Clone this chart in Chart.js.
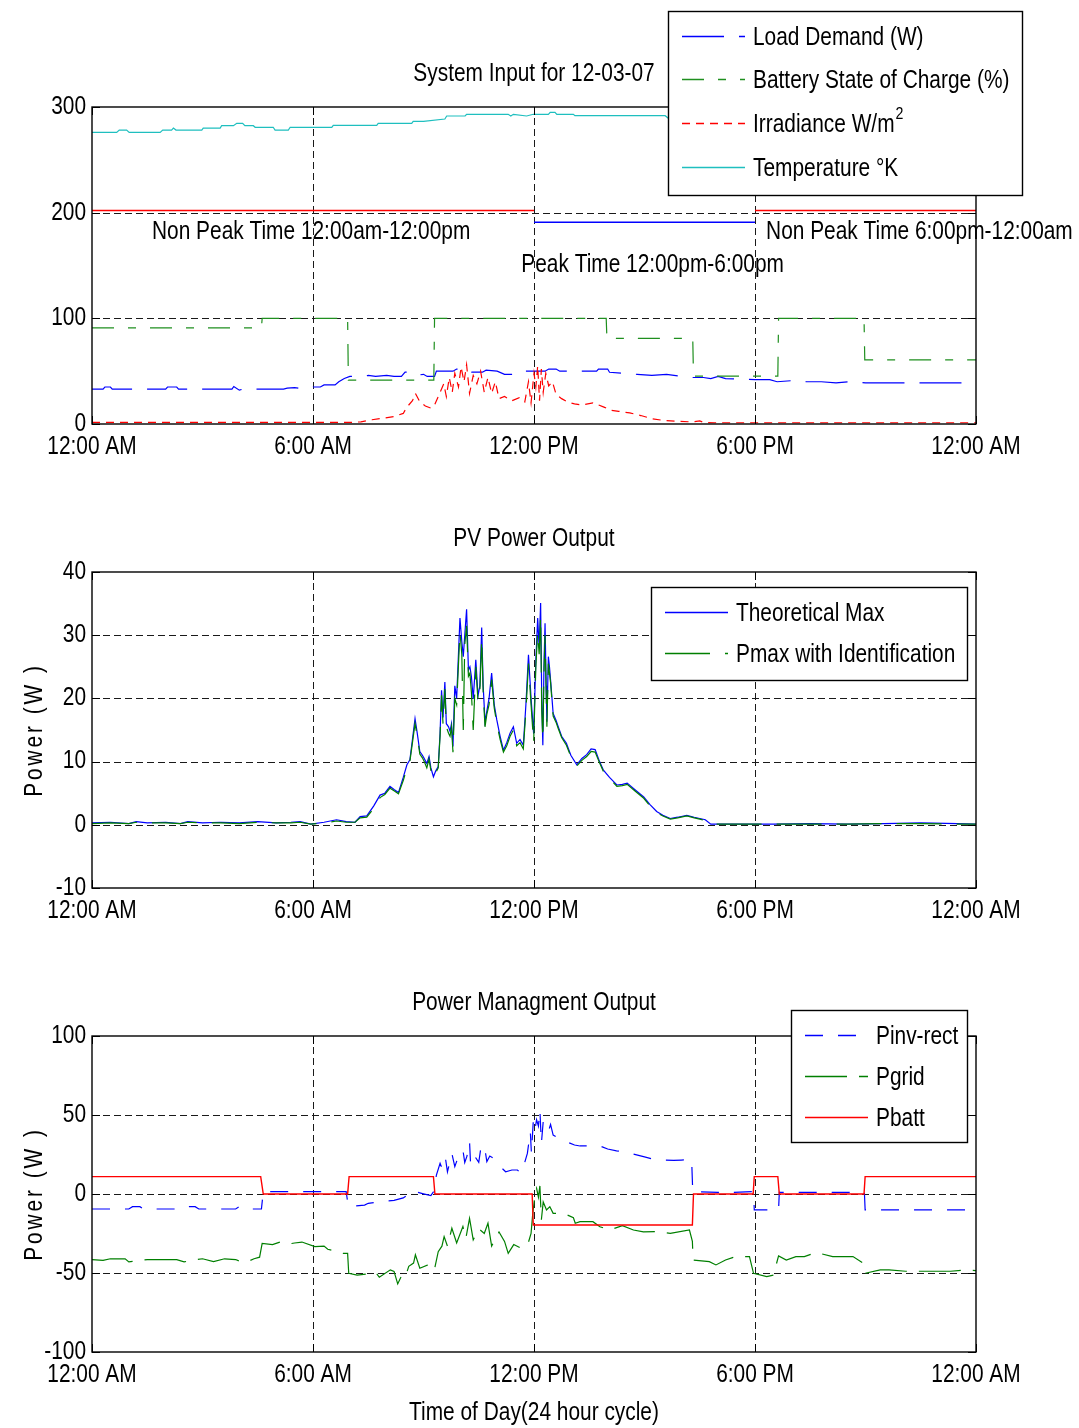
<!DOCTYPE html>
<html>
<head>
<meta charset="utf-8">
<title>System Input / PV Power / Power Management</title>
<script src="https://cdn.jsdelivr.net/npm/chart.js@4.4.1/dist/chart.umd.min.js"></script>
<style>
  html, body { margin: 0; padding: 0; background: #fff; }
  #wrap { position: relative; width: 1079px; height: 1428px; }
  #wrap canvas { position: absolute; left: 0; top: 0; }
</style>
</head>
<body>
<div id="wrap">
  <canvas id="chart-input" width="1079" height="1428"></canvas>
  <canvas id="chart-pv" width="1079" height="1428"></canvas>
  <canvas id="chart-mgmt" width="1079" height="1428"></canvas>
</div>
<script>
// ---- shared axis data ----
const tickHours = [0, 6, 12, 18, 24];
const tickLabels = ['12:00 AM', '6:00 AM', '12:00 PM', '6:00 PM', '12:00 AM'];

// ---- chart 1: system input ----
const inputTicks = [0, 100, 200, 300];

const loadHours = [0, 0.3, 0.35, 0.5, 0.55, 2.0, 2.05, 2.3, 2.35, 3.8,
  3.85, 4.0, 4.1, 5.2, 5.3, 5.5, 5.8, 6.0, 6.2, 6.3,
  6.6, 6.7, 6.85, 7.0, 7.4, 7.5, 7.7, 8.0, 8.2, 8.4,
  8.5, 8.7, 8.8, 9.0, 9.1, 9.3, 9.35, 9.8, 9.9, 10.2,
  10.3, 10.6, 10.7, 11.0, 11.2, 11.6, 11.7, 12.0, 12.3, 12.4,
  12.6, 12.7, 13.7, 13.75, 14.0, 14.05, 14.8, 15.2, 15.6, 16.0,
  16.3, 16.6, 16.8, 17.0, 17.2, 18.0, 18.4, 18.6, 19.0, 19.4,
  19.8, 20.2, 20.6, 21.0, 22.0, 24.0];
const loadWatts = [33, 33, 35, 35, 33, 33, 35, 35, 33, 33,
  35.5, 32, 33, 33, 34, 34.5, 33, 35, 35, 37,
  37, 40, 43, 45, 45, 46, 45, 46, 45, 45,
  49, 49, 46, 47, 45, 45, 50, 50, 52, 52,
  49, 49, 51, 50, 47, 47, 50, 50, 50, 52,
  52, 50, 50, 52, 52, 49, 47, 46, 47, 45,
  44, 44, 43, 45, 43, 42, 42, 40, 41, 40,
  40, 39, 40, 39, 39, 39];

const socHours = [0, 4.6, 4.62, 6.94, 6.96, 9.28, 9.3, 13.96, 13.98, 16.31, 16.33, 18.62, 18.64, 20.96, 20.98, 24];
const socPercent = [91, 91, 100, 100, 41.6, 41.6, 100, 100, 81, 81, 45.4, 45.4, 100, 100, 60.6, 60.6];

const irrHours = [0, 7.0, 7.3, 7.6, 7.9, 8.2, 8.45, 8.55, 8.7, 8.78,
  8.9, 9.05, 9.2, 9.3, 9.45, 9.55, 9.62, 9.7, 9.78, 9.85,
  9.95, 10.02, 10.1, 10.17, 10.25, 10.35, 10.45, 10.55, 10.65, 10.75,
  10.85, 10.95, 11.05, 11.2, 11.4, 11.6, 11.75, 11.85, 11.92, 12.0,
  12.05, 12.1, 12.15, 12.2, 12.25, 12.32, 12.4, 12.5, 12.6, 12.75,
  12.9, 13.1, 13.3, 13.6, 13.9, 14.1, 14.3, 14.6, 14.9, 15.2,
  15.5, 15.9, 16.3, 16.5, 16.6, 16.9, 24];
const irrValues = [1.5, 1.5, 2, 4, 5.5, 7, 10, 16, 22, 29,
  21, 17, 15, 18, 30, 38, 26, 44, 30, 48,
  35, 54, 40, 56, 29, 46, 38, 50, 30, 44,
  29, 40, 24, 26, 22, 25, 21, 40, 20, 48,
  35, 55, 22, 52, 30, 48, 36, 40, 28, 24,
  21, 19, 18, 20, 16, 13, 12, 10.5, 8, 5,
  3.5, 2.5, 2, 3, 1.5, 1.2, 1.2];

const tempHours = [0, 0.67, 0.74, 0.94, 1.01, 1.85, 1.92, 2.16, 2.21, 2.28,
  2.98, 3.02, 3.48, 3.52, 3.84, 3.93, 4.09, 4.15, 4.38, 4.43,
  4.92, 4.97, 5.33, 5.38, 6.51, 6.55, 7.73, 7.77, 8.68, 8.72,
  9.0, 9.58, 9.63, 10.13, 10.17, 11.30, 11.37, 11.44, 11.80, 11.98,
  12.39, 12.44, 12.57, 12.62, 13.07, 13.11, 15.56, 15.65, 17, 19,
  21, 24];
const tempKelvin = [276, 276, 278.2, 278.2, 276, 276, 278.2, 278.2, 280.1, 278.2,
  278.2, 280.1, 280.1, 282.3, 282.3, 284.5, 284.5, 282.3, 282.3, 280.8,
  280.8, 278.2, 278.2, 280.8, 280.8, 282.7, 282.7, 284.5, 284.5, 286.4,
  286.4, 288.6, 291.5, 291.5, 293.1, 293.1, 291.5, 293.1, 291.5, 293.1,
  293.1, 295, 295, 293.1, 293.1, 291.8, 291.8, 289.3, 288, 286,
  284, 282];

// tariff period markers (non peak / peak / non peak)
const tariffStart = [0, 12, 18];
const tariffEnd = [12, 18, 24];
const tariffLevel = [202, 191, 202];
const tariffColors = ['#ff0000', '#0000ff', '#ff0000'];

const noteText = ['Non Peak Time 12:00am-12:00pm', 'Peak Time 12:00pm-6:00pm', 'Non Peak Time 6:00pm-12:00am'];
const noteHour = [5.95, 15.22, 18.3];
const noteLevel = [182, 150, 182];

// ---- chart 2: PV power ----
const pvTicks = [-10, 0, 10, 20, 30, 40];
const pvHours = [0, 0.5, 1.0, 1.2, 1.5, 2.0, 2.4, 2.6, 3.0, 3.5,
  4.0, 4.5, 5.0, 5.4, 5.65, 5.94, 6.3, 6.64, 6.9, 7.14,
  7.28, 7.46, 7.65, 7.82, 7.95, 8.09, 8.2, 8.32, 8.45, 8.55,
  8.63, 8.7, 8.77, 8.83, 8.9, 8.97, 9.02, 9.09, 9.15, 9.2,
  9.27, 9.33, 9.4, 9.45, 9.49, 9.53, 9.58, 9.62, 9.68, 9.72,
  9.76, 9.8, 9.85, 9.9, 9.95, 9.99, 10.04, 10.08, 10.12, 10.17,
  10.22, 10.26, 10.3, 10.35, 10.42, 10.48, 10.53, 10.58, 10.62, 10.67,
  10.72, 10.78, 10.85, 10.92, 10.99, 11.08, 11.17, 11.26, 11.35, 11.44,
  11.53, 11.62, 11.71, 11.78, 11.85, 11.92, 11.99, 12.05, 12.1, 12.14,
  12.18, 12.21, 12.24, 12.27, 12.3, 12.33, 12.35, 12.39, 12.42, 12.45,
  12.52, 12.6, 12.66, 12.75, 12.88, 13.0, 13.16, 13.3, 13.43, 13.55,
  13.66, 13.78, 13.88, 14.05, 14.25, 14.4, 14.53, 14.75, 14.98, 15.15,
  15.33, 15.5, 15.7, 15.9, 16.15, 16.35, 16.5, 16.65, 16.8, 17.5,
  18.5, 19.5, 20.5, 21.5, 22.5, 23.5, 24];
const pvTheoretical = [0.3, 0.4, 0.2, 0.5, 0.3, 0.4, 0.2, 0.5, 0.3, 0.4,
  0.3, 0.5, 0.3, 0.4, 0.5, 0.1, 0.4, 0.8, 0.5, 0.4,
  1.3, 1.4, 3.0, 4.7, 5.0, 6.1, 5.6, 5.1, 7.5, 9.5,
  10.3, 13.5, 16.8, 14.5, 11.6, 11.0, 10.5, 9.7, 10.8, 9.0,
  7.6, 8.5, 9.2, 14.5, 21.3, 17.0, 22.6, 16.0, 15.5, 14.8,
  16.0, 12.4, 22.0, 20.0, 27.1, 32.7, 29.0, 26.6, 30.0, 34.1,
  24.5, 25.0, 23.5, 19.9, 26.1, 20.4, 22.0, 31.2, 22.0, 16.3,
  18.0, 20.0, 24.0, 19.0, 16.6, 14.0, 11.8, 13.0, 14.5, 15.5,
  12.9, 13.5, 12.6, 19.0, 26.9, 20.0, 14.4, 26.0, 32.7, 28.0,
  35.1, 20.0, 12.6, 25.0, 31.9, 22.0, 16.3, 26.6, 25.0, 22.9,
  17.6, 16.5, 15.5, 14.0, 12.9, 11.0, 9.5, 10.5, 11.1, 12.0,
  11.9, 10.0, 8.7, 7.5, 6.3, 6.4, 6.6, 5.5, 4.4, 3.2,
  2.1, 1.5, 1.0, 1.2, 1.5, 1.2, 1.0, 0.8, 0.1, 0.1,
  0.1, 0.2, 0.1, 0.2, 0.3, 0.2, 0.1];
const pvIdentified = [0.2, 0.3, 0.2, 0.4, 0.3, 0.3, 0.2, 0.4, 0.3, 0.3,
  0.2, 0.4, 0.3, 0.3, 0.4, 0.1, 0.3, 0.6, 0.4, 0.4,
  1.1, 1.2, 2.6, 4.3, 4.8, 5.8, 5.4, 4.9, 7.0, 9.0,
  10.0, 13.0, 16.0, 14.0, 11.2, 10.6, 10.0, 9.0, 10.4, 8.6,
  7.4, 8.2, 9.0, 14.0, 20.5, 16.0, 21.5, 15.5, 14.5, 14.0,
  15.5, 11.5, 20.0, 19.0, 25.5, 30.5, 27.0, 15.0, 28.5, 31.5,
  23.5, 24.0, 21.0, 15.0, 25.0, 19.5, 21.0, 29.5, 21.0, 15.5,
  17.5, 19.0, 23.0, 18.5, 16.0, 13.5, 11.5, 12.5, 14.0, 15.0,
  12.5, 13.0, 12.0, 18.0, 25.5, 19.0, 13.0, 25.0, 30.5, 27.0,
  33.0, 18.0, 13.5, 24.0, 30.0, 21.0, 15.5, 25.5, 24.0, 22.5,
  17.2, 16.2, 15.2, 13.8, 12.6, 10.8, 9.3, 10.2, 10.8, 11.6,
  11.5, 9.8, 8.5, 7.3, 6.1, 6.2, 6.4, 5.3, 4.2, 3.0,
  1.9, 1.4, 0.9, 1.1, 1.4, 1.1, 0.9, 0.7, 0.1, 0.1,
  0.1, 0.1, 0.1, 0.2, 0.2, 0.1, 0.1];

// ---- chart 3: power management ----
const mgmtTicks = [-100, -50, 0, 50, 100];

const invHours = [0, 1.0, 1.1, 1.3, 1.4, 2.5, 2.6, 2.8, 2.9, 3.9,
  4.0, 4.2, 4.3, 4.6, 4.65, 6.9, 6.96, 7.4, 7.5, 7.9,
  8.2, 8.45, 8.6, 8.73, 8.85, 9.0, 9.2, 9.29, 9.35, 9.45,
  9.52, 9.6, 9.65, 9.77, 9.85, 9.95, 10.07, 10.12, 10.18, 10.25,
  10.28, 10.4, 10.5, 10.55, 10.65, 10.72, 10.8, 10.95, 11.1, 11.23,
  11.4, 11.55, 11.64, 11.71, 11.82, 11.9, 11.93, 11.98, 12.02, 12.07,
  12.12, 12.16, 12.2, 12.25, 12.3, 12.39, 12.45, 12.52, 12.7, 12.88,
  13.1, 13.25, 13.79, 14.0, 14.24, 14.5, 14.7, 15.0, 15.24, 15.5,
  15.79, 16.0, 16.28, 16.31, 17.0, 17.2, 17.4, 17.96, 17.98, 18.64,
  18.66, 20.97, 20.99, 24];
const invWatts = [-9.5, -9.5, -8, -8, -9.5, -9.5, -8, -8, -9.5, -9.5,
  -8, -8, -9.5, -9.5, 1.5, 1.5, -8, -7, -5.9, -4.6,
  -4, -2.5, 0, 2.5, 1, 0.1, -1, 2, 12, 19.4,
  15.2, 22, 14, 25.7, 17.3, 24, 27.8, 20, 24, 33.1,
  18, 23.6, 20, 28, 31, 20.5, 24, 22, 17, 14.1,
  15.2, 15.2, 13.1, 17, 25.7, 39.5, 25.7, 45.8, 40, 47,
  43, 53.2, 32, 45.8, 42, 39.5, 44, 37.3, 35, 33.1,
  31, 30.4, 30.4, 28.5, 27.3, 26.5, 25.3, 23.5, 22, 21.5,
  21.3, 21.5, 21.7, 1.5, 1, 1.8, 1, 1.5, -10, -10,
  1, 1, -10, -10];

const gridHours = [0, 0.3, 0.5, 0.9, 1.0, 1.3, 1.5, 2.3, 2.5, 2.7,
  3.0, 3.3, 3.6, 3.9, 4.0, 4.2, 4.4, 4.55, 4.62, 4.9,
  5.1, 5.3, 5.5, 5.7, 6.05, 6.3, 6.4, 6.6, 6.82, 6.94,
  6.97, 7.2, 7.5, 7.7, 7.8, 8.1, 8.2, 8.3, 8.4, 8.5,
  8.6, 8.73, 8.78, 8.9, 9.1, 9.29, 9.4, 9.5, 9.56, 9.65,
  9.77, 9.9, 10.07, 10.15, 10.25, 10.35, 10.5, 10.65, 10.75, 10.85,
  11.05, 11.2, 11.3, 11.45, 11.66, 11.84, 11.92, 11.96, 12.03, 12.07,
  12.12, 12.16, 12.2, 12.25, 12.34, 12.43, 12.52, 12.8, 13.07, 13.12,
  13.25, 13.6, 13.79, 14.06, 14.4, 14.7, 14.97, 15.33, 15.7, 16.22,
  16.3, 16.32, 16.76, 16.94, 17.2, 17.48, 17.85, 17.96, 18.32, 18.5,
  18.64, 18.85, 19.11, 19.34, 19.66, 20.11, 20.66, 20.95, 20.99, 21.4,
  21.64, 22.09, 23.31, 23.72, 24];
const gridWatts = [-41.5, -42, -41, -41, -43, -42, -41.5, -41.5, -43, -42,
  -41, -42.8, -41, -41.5, -42.5, -43, -41, -40, -31.2, -32,
  -30.5, -31.8, -31, -30.4, -33.3, -33, -35, -36, -37.6, -37.6,
  -50.2, -51.3, -50.5, -49.6, -52.7, -48, -49, -56.9, -52, -53,
  -45.8, -43.7, -38.5, -47, -45, -48.5, -36.5, -33, -27, -33,
  -21.7, -31, -20.6, -28, -15.4, -29, -22, -25, -18.5, -33,
  -24, -30, -37.6, -32, -34.4, -31.2, -25, -14, 0.4, 3.6,
  -2, 5.1, -16.3, -5, -10.1, -8, -12.2, -12.2, -15, -18.5,
  -17.5, -17.5, -20.7, -22.8, -20, -22.8, -24, -23.8, -24.9, -22.8,
  -30, -41.8, -42.8, -44.9, -41.8, -39.6, -39.6, -50.2, -52.3, -51.3,
  -39.2, -41.8, -39.6, -39.6, -37, -39.6, -39.6, -43.9, -50.2, -48,
  -48, -48.9, -48.9, -48, -48.5];

const battHours = [0, 4.58, 4.65, 6.94, 6.98, 9.27, 9.31, 11.95, 11.98, 16.3, 16.33, 17.95, 17.98, 18.62, 18.66, 20.96, 20.99, 24];
const battWatts = [11, 11, 0, 0, 11, 11, 0, 0, -19.6, -19.6, 0, 0, 11, 11, 0, 0, 11, 11];

// ---- layout / style ----
const PAGE_W = 1079, PAGE_H = 1428;
const PLOT_LEFT = 92, PLOT_RIGHT = 976;
const X_AXIS_H = 40;
const FONT_FAMILY = '"Liberation Sans", Arial, sans-serif';
const FONT_SIZE = 25;
const FONT = `${FONT_SIZE}px ${FONT_FAMILY}`;
const SX = 0.835; // horizontal squeeze, the original uses a narrow face

function pts(xs, ys) {
  if (xs.length !== ys.length) console.warn('length mismatch', xs.length, ys.length);
  return xs.map((x, i) => ({ x, y: ys[i] }));
}

function line(label, xs, ys, color, dash, extra) {
  return Object.assign({
    label, data: pts(xs, ys), borderColor: color, backgroundColor: color,
    borderWidth: 1.2, borderDash: dash || [], pointRadius: 0, fill: false, tension: 0
  }, extra || {});
}

// MATLAB draws later lines on top; Chart.js draws lower `order` on top
function stackOrder(datasets) {
  datasets.forEach((d, i) => { d.order = datasets.length - i; });
  return datasets;
}

// narrow text: normal face squeezed horizontally around its anchor
function drawText(ctx, text, x, y, align, font) {
  ctx.save();
  ctx.font = font || FONT;
  ctx.fillStyle = '#000';
  ctx.textAlign = align;
  ctx.textBaseline = 'middle';
  ctx.translate(x, y);
  ctx.scale(SX, 1);
  ctx.fillText(text, 0, 0);
  ctx.restore();
}

function drawLegend(ctx, chart, L) {
  ctx.save();
  ctx.fillStyle = '#fff';
  ctx.fillRect(L.left, L.top, L.width, L.height);
  ctx.strokeStyle = '#000';
  ctx.lineWidth = 1.4;
  ctx.setLineDash([]);
  ctx.strokeRect(L.left + 0.5, L.top + 0.5, L.width, L.height);
  chart.data.datasets.filter(d => d.label).forEach((d, i) => {
    const yy = Math.round(L.top + L.firstRow + i * L.rowGap) + 0.5;
    ctx.strokeStyle = d.borderColor;
    ctx.lineWidth = 1.3;
    ctx.setLineDash(d.borderDash || []);
    ctx.beginPath();
    ctx.moveTo(L.left + 14, yy);
    ctx.lineTo(L.left + 77, yy);
    ctx.stroke();
    ctx.setLineDash([]);
    drawText(ctx, d.label, L.left + 85, yy + 2, 'left');
    if (d.labelSup) {
      ctx.font = FONT;
      const w = ctx.measureText(d.label).width * SX;
      drawText(ctx, d.labelSup, L.left + 86 + w, yy - 9, 'left', `17px ${FONT_FAMILY}`);
    }
  });
  ctx.restore();
}

const matlabPlugin = {
  id: 'matlab',
  beforeDatasetsDraw(chart) {
    const { ctx, chartArea: a, scales: { x, y } } = chart;
    ctx.save();
    ctx.strokeStyle = '#1a1a1a';
    ctx.lineWidth = 1;
    ctx.setLineDash([7, 4]);
    ctx.beginPath();
    x.ticks.forEach(t => {
      if (t.value <= x.min || t.value >= x.max) return;
      const px = Math.round(x.getPixelForValue(t.value)) + 0.5;
      ctx.moveTo(px, a.top); ctx.lineTo(px, a.bottom);
    });
    y.ticks.forEach(t => {
      if (t.value <= y.min || t.value >= y.max) return;
      const py = Math.round(y.getPixelForValue(t.value)) + 0.5;
      ctx.moveTo(a.left, py); ctx.lineTo(a.right, py);
    });
    ctx.stroke();
    ctx.restore();
  },
  afterDraw(chart, args, opts) {
    const { ctx, chartArea: a, scales: { x, y } } = chart;
    ctx.save();
    // axes box and inward tick marks
    ctx.strokeStyle = '#000';
    ctx.setLineDash([]);
    ctx.lineWidth = 1.4;
    ctx.strokeRect(a.left, a.top, a.right - a.left, a.bottom - a.top);
    ctx.lineWidth = 1;
    ctx.beginPath();
    x.ticks.forEach(t => {
      const px = Math.round(x.getPixelForValue(t.value)) + 0.5;
      ctx.moveTo(px, a.bottom); ctx.lineTo(px, a.bottom - 8);
      ctx.moveTo(px, a.top); ctx.lineTo(px, a.top + 8);
    });
    y.ticks.forEach(t => {
      const py = Math.round(y.getPixelForValue(t.value)) + 0.5;
      ctx.moveTo(a.left, py); ctx.lineTo(a.left + 8, py);
      ctx.moveTo(a.right, py); ctx.lineTo(a.right - 8, py);
    });
    ctx.stroke();

    // tick labels
    x.ticks.forEach((t, i) => drawText(ctx, tickLabels[i], x.getPixelForValue(t.value), a.bottom + 23, 'center'));
    y.ticks.forEach(t => drawText(ctx, String(t.value), a.left - 6, y.getPixelForValue(t.value), 'right'));

    if (opts.title) drawText(ctx, opts.title, (a.left + a.right) / 2, a.top - 33, 'center');
    if (opts.xTitle) drawText(ctx, opts.xTitle, (a.left + a.right) / 2, a.bottom + 61, 'center');

    (opts.notes || []).forEach(n => {
      drawText(ctx, n.text, x.getPixelForValue(n.hour), y.getPixelForValue(n.level), n.align);
    });

    if (opts.yTitle) {
      ctx.save();
      ctx.translate(35, (a.top + a.bottom) / 2);
      ctx.rotate(-Math.PI / 2);
      ctx.scale(SX, 1);
      ctx.font = FONT;
      ctx.fillStyle = '#000';
      ctx.textAlign = 'center';
      ctx.textBaseline = 'middle';
      ctx.letterSpacing = '3.5px';
      ctx.fillText(opts.yTitle, 0, 0);
      ctx.restore();
    }
    if (opts.legend) drawLegend(ctx, chart, opts.legend);
    ctx.restore();
  }
};

function makeChart(id, cfg) {
  return new Chart(document.getElementById(id), {
    type: 'line',
    data: { datasets: stackOrder(cfg.datasets) },
    options: {
      responsive: false,
      animation: false,
      devicePixelRatio: 1,
      events: [],
      layout: {
        padding: { left: 0, right: PAGE_W - PLOT_RIGHT, top: cfg.top, bottom: PAGE_H - cfg.bottom - X_AXIS_H }
      },
      plugins: {
        legend: { display: false },
        title: { display: false },
        tooltip: { enabled: false },
        matlab: cfg.deco
      },
      scales: {
        x: {
          type: 'linear', min: 0, max: 24,
          afterBuildTicks: s => { s.ticks = tickHours.map(v => ({ value: v })); },
          afterFit: s => { s.height = X_AXIS_H; },
          ticks: { display: false },
          grid: { display: false, drawTicks: false },
          border: { display: false }
        },
        y: {
          type: 'linear', min: cfg.yTicks[0], max: cfg.yTicks[cfg.yTicks.length - 1],
          afterBuildTicks: s => { s.ticks = cfg.yTicks.map(v => ({ value: v })); },
          afterFit: s => { s.width = PLOT_LEFT; },
          ticks: { display: false },
          grid: { display: false, drawTicks: false },
          border: { display: false }
        }
      }
    },
    plugins: [matlabPlugin]
  });
}

// ---- chart 1 ----
const tariffSets = tariffStart.map((s, i) =>
  line(undefined, [s, tariffEnd[i]], [tariffLevel[i], tariffLevel[i]], tariffColors[i], [], { borderWidth: 1.4 }));

makeChart('chart-input', {
  top: 107, bottom: 424, yTicks: inputTicks,
  datasets: [
    ...tariffSets,
    line('Load Demand (W)', loadHours, loadWatts, '#0000ff', [42, 15]),
    line('Battery State of Charge (%)', socHours, socPercent, '#1f8f1f', [22, 14, 8, 14]),
    line('Irradiance W/m', irrHours, irrValues, '#ff0000', [8, 6], { labelSup: '2' }),
    line('Temperature \u00B0K', tempHours, tempKelvin, '#1fbfbf', [])
  ],
  deco: {
    title: 'System Input for 12-03-07',
    notes: noteText.map((t, i) => ({ text: t, hour: noteHour[i], level: noteLevel[i], align: i === 2 ? 'left' : 'center' })),
    legend: { left: 668, top: 11, width: 354, height: 184, firstRow: 24.5, rowGap: 43.8 }
  }
});

// ---- chart 2 ----
makeChart('chart-pv', {
  top: 572, bottom: 888, yTicks: pvTicks,
  datasets: [
    line('Theoretical Max', pvHours, pvTheoretical, '#0000ff', []),
    line('Pmax with Identification', pvHours, pvIdentified, '#007f00', [45, 15])
  ],
  deco: {
    title: 'PV Power Output',
    yTitle: 'Power (W )',
    legend: { left: 651, top: 587, width: 316, height: 93, firstRow: 24.7, rowGap: 41 }
  }
});

// ---- chart 3 ----
makeChart('chart-mgmt', {
  top: 1036, bottom: 1352, yTicks: mgmtTicks,
  datasets: [
    line('Pinv-rect', invHours, invWatts, '#0000ff', [18, 15]),
    line('Pgrid', gridHours, gridWatts, '#007f00', [42, 12]),
    line('Pbatt', battHours, battWatts, '#ff0000', [], { borderWidth: 1.4 })
  ],
  deco: {
    title: 'Power Managment Output',
    yTitle: 'Power (W )',
    xTitle: 'Time of Day(24 hour cycle)',
    legend: { left: 791, top: 1010, width: 176, height: 132, firstRow: 24.5, rowGap: 41 }
  }
});
</script>
</body>
</html>
